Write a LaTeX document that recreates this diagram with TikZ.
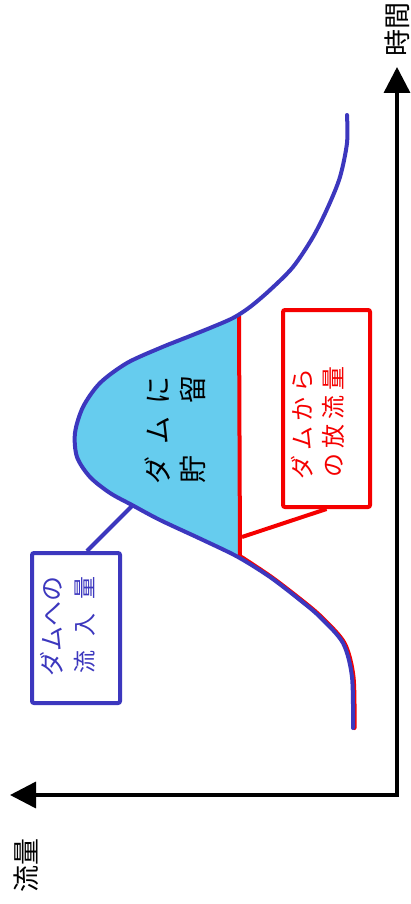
\documentclass[tikz,border=0pt]{standalone}
\usepackage{fontspec}
\setmainfont{Noto Sans CJK JP}
\usetikzlibrary{arrows.meta,calc}
\definecolor{dblue}{RGB}{60,55,190}
\definecolor{dred}{RGB}{245,0,0}
\definecolor{lblue}{RGB}{102,204,238}
\begin{document}
\begin{tikzpicture}[x=1pt,y=-1pt,
  axis/.style={line width=3.5pt,{Triangle[length=26pt,width=26pt]}-{Triangle[length=26pt,width=26pt]}},
  inflow/.style={draw=dblue,line width=4pt,line cap=round},
  outflow/.style={draw=dred,line width=4pt,line cap=round},
  callbox/.style={line width=4pt,rounded corners=2pt,fill=white,inner sep=0pt},
  vtext/.style={rotate=90,inner sep=0pt,font=\fontsize{#1}{#1}\selectfont},
  vtext/.default=22]
\useasboundingbox (0,0) rectangle (410,904);
\fill[white] (0,0) rectangle (410,904);
% key points
\coordinate (rt) at (239,316);
\coordinate (rb) at (240,557);
\coordinate (origin) at (397,795);
\coordinate (tt) at (397,67);
\coordinate (ft) at (10,795);
% storage fill
\fill[lblue] plot[smooth,tension=0.5] coordinates {(239,316) (233,318) (210,328) (185,338) (160,348) (127,363) (100,383) (83,407) (75,433) (77,457) (90,477) (110,493) (132,505) (160,520) (203,540) (240,557)} -- cycle;
% outflow
\draw[outflow] (rt) -- (rb);
\draw[outflow,xshift=1.5pt] plot[smooth,tension=0.5] coordinates {(240,557) (270,577) (300,600) (320,617) (343,643) (352,677) (353,728)};
% inflow curve
\draw[inflow] plot[smooth,tension=0.5] coordinates {(347,115) (347,143) (340,177) (328,207) (313,237) (293,267) (270,290) (250,307) (233,318) (210,328) (185,338) (160,348) (127,363) (100,383) (83,407) (75,433) (77,457) (90,477) (110,493) (132,505) (160,520) (203,540) (238,557) (270,577) (300,600) (320,617) (343,643) (352,677) (353,728)};
% axes
\draw[axis] (ft) -- (origin) -- (tt);
\node[vtext=27] (tlab) at (397,30) {時間};
\node[vtext=27] (qlab) at (26,865) {流量};
% storage text
\node[vtext=28] (s1) at (158,430) {ダ\hspace{12pt}ム\hspace{12pt}に};
\node[vtext=28] (s2) at (193,429) {貯\hspace{52pt}留};
% outflow callout
\node[callbox,draw=dred,minimum width=87pt,minimum height=197pt] (rbox) at (326.5,408.5) {};
\coordinate (rp) at (242,537);
\draw[outflow,line cap=butt] (rbox.south) -- (rp);
\node[vtext=24,text=dred] (r1) at (302,424) {ダ\hspace{5pt}ム\hspace{5pt}か\hspace{5pt}ら};
\node[vtext=24,text=dred] (r2) at (333,422) {の\hspace{5pt}放\hspace{5pt}流\hspace{5pt}量};
% inflow callout
\node[callbox,draw=dblue,minimum width=88pt,minimum height=150pt] (bbox) at (76,628) {};
\coordinate (bp) at (133,505);
\draw[inflow,line cap=butt] ($(bbox.north)+(11,0)$) -- (bp);
\node[vtext=25,text=dblue] (b1) at (52,626) {ダムへの};
\node[vtext=23,text=dblue] (b2) at (85,625) {流\hspace{14pt}入\hspace{14pt}量};
\end{tikzpicture}
\end{document}
